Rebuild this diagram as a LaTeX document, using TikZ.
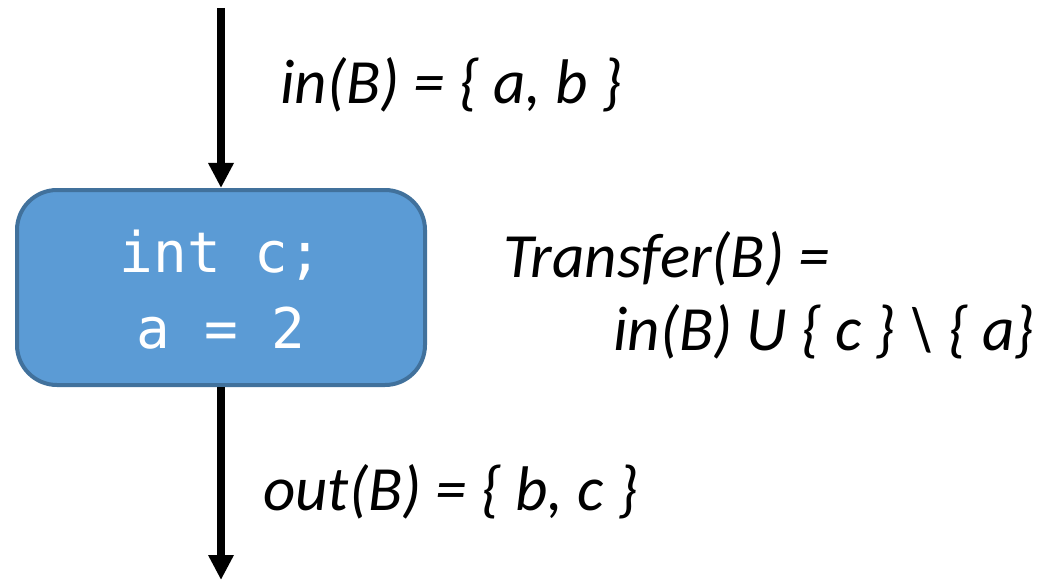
\documentclass[tikz,border=0pt]{standalone}
\usepackage{fontspec}
\setmainfont{Carlito}
\newfontfamily\codefont{DejaVu Sans Mono}
\usetikzlibrary{arrows.meta}
\definecolor{boxfill}{HTML}{5B9BD5}
\definecolor{boxedge}{HTML}{41719C}
\tikzset{
  flow/.style={line width=8pt, -{Triangle[width=24pt,length=25pt]}},
  block/.style={draw=boxedge, fill=boxfill, line width=4pt, rounded corners=40pt,
    minimum width=408pt, minimum height=195pt, inner sep=0pt},
  code/.style={text=white, font=\codefont\fontsize{56}{76}\selectfont, anchor=base, inner sep=0pt},
  lbl/.style={font=\itshape\fontsize{63}{70}\selectfont, anchor=base west, inner sep=0pt}
}
\begin{document}
\begin{tikzpicture}[x=1pt,y=-1pt]
\useasboundingbox (0,0) rectangle (1059,580);
\node[block] (B) at (221,287.5) {};
\node[code] (c1) at (221,272) {int c;};
\node[code] (c2) at (221,348) {a = 2};
\coordinate (top) at (221,8);
\coordinate (bot) at (221,580);
\draw[flow] (top) -- (B.north);
\draw[flow] (B.south) -- (bot);
\node[lbl] (in) at (280,104) {in(B) = \{ a, b \}};
\node[lbl] (tr1) at (503,277) {Transfer(B) =};
\node[lbl] (tr2) at (613,350) {in(B) U \{ c \} \textbackslash{} \{ a\}};
\node[lbl] (out) at (263,510) {out(B) = \{ b, c \}};
\end{tikzpicture}
\end{document}
